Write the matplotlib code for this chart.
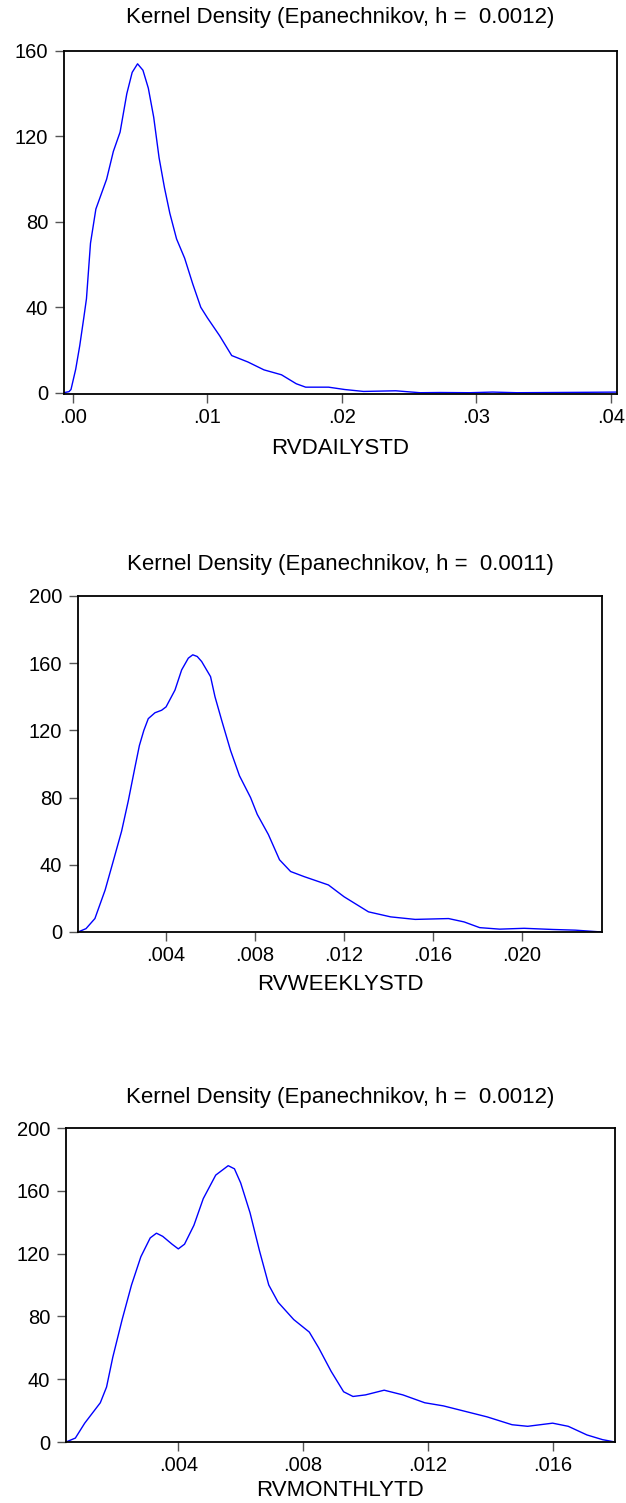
import matplotlib
matplotlib.use("Agg")
import matplotlib.pyplot as plt
from matplotlib.ticker import FuncFormatter

plt.rcParams['font.family'] = ['Liberation Sans', 'DejaVu Sans']

# RVDAILYSTD kernel density
daily_x = [-0.0007, -0.0003, -0.00015, 0.0002, 0.0005, 0.0008, 0.001, 0.0013, 0.0017,
           0.0021, 0.0025, 0.003, 0.0035, 0.004, 0.0044, 0.0048, 0.0052, 0.0056, 0.006,
           0.0064, 0.0068, 0.0072, 0.0077, 0.0083, 0.0089, 0.0095, 0.01, 0.0109, 0.0118,
           0.013, 0.0142, 0.0155, 0.0166, 0.0173, 0.019, 0.0202, 0.0216, 0.024, 0.0258,
           0.0273, 0.0295, 0.0312, 0.033, 0.0383, 0.0405]
daily_y = [0, 0.5, 1.5, 11, 22, 35, 44, 70, 86, 93, 100, 113, 122, 140, 150, 154, 151,
           142.6, 129, 110, 96, 84, 72, 63, 51, 40, 35, 26.7, 17.4, 14.4, 10.7, 8.4,
           4.2, 2.6, 2.6, 1.5, 0.6, 0.9, 0, 0.1, 0, 0.3, 0, 0.2, 0.3]

# RVWEEKLYSTD
weekly_x = [0.00004, 0.0004, 0.0008, 0.00126, 0.0016, 0.002, 0.0023, 0.0026, 0.0028,
            0.003, 0.0032, 0.0035, 0.0038, 0.004, 0.0042, 0.0044, 0.0047, 0.005, 0.0052,
            0.0054, 0.0056, 0.006, 0.0062, 0.0065, 0.0069, 0.0073, 0.0078, 0.0081, 0.0086,
            0.0091, 0.0096, 0.0102, 0.0113, 0.012, 0.0131, 0.0141, 0.0152, 0.0167, 0.0174,
            0.0181, 0.019, 0.0201, 0.0214, 0.0224, 0.0236]
weekly_y = [0, 2, 8, 25, 41, 60, 78, 98, 111, 120, 127, 130.5, 132, 134, 139, 144, 156,
            163, 165, 164, 161, 152, 140, 126, 108, 93, 80, 70, 58, 43, 36, 33, 28, 21,
            12, 9, 7.5, 8, 6, 2.6, 1.7, 2.2, 1.5, 1.1, 0]

# RVMONTHLYTD
monthly_x = [0.0004, 0.0007, 0.001, 0.0015, 0.0017, 0.0019, 0.0022, 0.0025, 0.0028,
             0.0031, 0.0033, 0.0035, 0.0038, 0.004, 0.0042, 0.0045, 0.0048, 0.0052,
             0.0056, 0.0058, 0.006, 0.0063, 0.0066, 0.0069, 0.0072, 0.0077, 0.0082,
             0.0085, 0.0089, 0.0093, 0.0096, 0.01, 0.0106, 0.0112, 0.0119, 0.0125,
             0.0133, 0.0139, 0.0147, 0.0152, 0.016, 0.0165, 0.0171, 0.0176, 0.018]
monthly_y = [0, 2.5, 12, 25, 35, 54, 78, 100, 118, 130, 133, 131, 126, 123, 126, 138,
             155, 170, 176, 174, 165, 146, 122, 100, 89, 78, 70, 60, 45, 32, 29, 30, 33,
             30, 25, 23, 19, 16, 11, 10, 12, 10, 4.5, 1.5, 0]

names = ['RVDAILYSTD', 'RVWEEKLYSTD', 'RVMONTHLYTD']
bandwidths = ['0.0012', '0.0011', '0.0012']
yticks = [[0, 40, 80, 120, 160], [0, 40, 80, 120, 160, 200], [0, 40, 80, 120, 160, 200]]
xticks = [[0.00, 0.01, 0.02, 0.03, 0.04],
          [0.004, 0.008, 0.012, 0.016, 0.020],
          [0.004, 0.008, 0.012, 0.016]]
decimals = [2, 3, 3]

W, H = 626, 1503
fig = plt.figure(figsize=(W / 100, H / 100), dpi=100)


def box(l, t, r, b):
    return [l / W, 1 - b / H, (r - l) / W, (b - t) / H]


# pixel boxes (left, top, right, bottom), title y, xlabel y, limits
layout = [
    ((64, 51, 617, 394), 18, 448, (-0.00067, 0.04045), (-0.6, 160)),
    ((78, 596, 602, 932), 565, 985, (0.00004, 0.0236), (0, 200)),
    ((66, 1128, 615, 1442), 1097, 1490, (0.0004, 0.0180), (0, 200)),
]
series = [(daily_x, daily_y), (weekly_x, weekly_y), (monthly_x, monthly_y)]

for i, (xs, ys) in enumerate(series):
    (l, t, r, b), ty, ly, xl, yl = layout[i]
    ax = fig.add_axes(box(l, t, r, b))
    ax.plot(xs, ys, color='#0000ff', lw=1.0)
    ax.set_xlim(*xl)
    ax.set_ylim(*yl)
    ax.set_xticks(xticks[i])
    ax.set_yticks(yticks[i])
    d = decimals[i]
    ax.xaxis.set_major_formatter(FuncFormatter(lambda v, p, d=d: f"{v:.{d}f}".lstrip('0')))
    ax.tick_params(axis='both', direction='out', length=6.5, width=1, color='#555555',
                   labelsize=14.5, top=False, right=False)
    ax.tick_params(axis='x', pad=3.5)
    ax.tick_params(axis='y', pad=5)
    for s in ax.spines.values():
        s.set_linewidth(1.3)
        s.set_color('black')
    cx = (l + r) / 2 / W
    fig.text(cx, 1 - ty / H, f'Kernel Density (Epanechnikov, h =  {bandwidths[i]})',
             ha='center', va='center', fontsize=16)
    fig.text(cx, 1 - ly / H, names[i], ha='center', va='center', fontsize=16)

fig.savefig('out.png', dpi=100)
